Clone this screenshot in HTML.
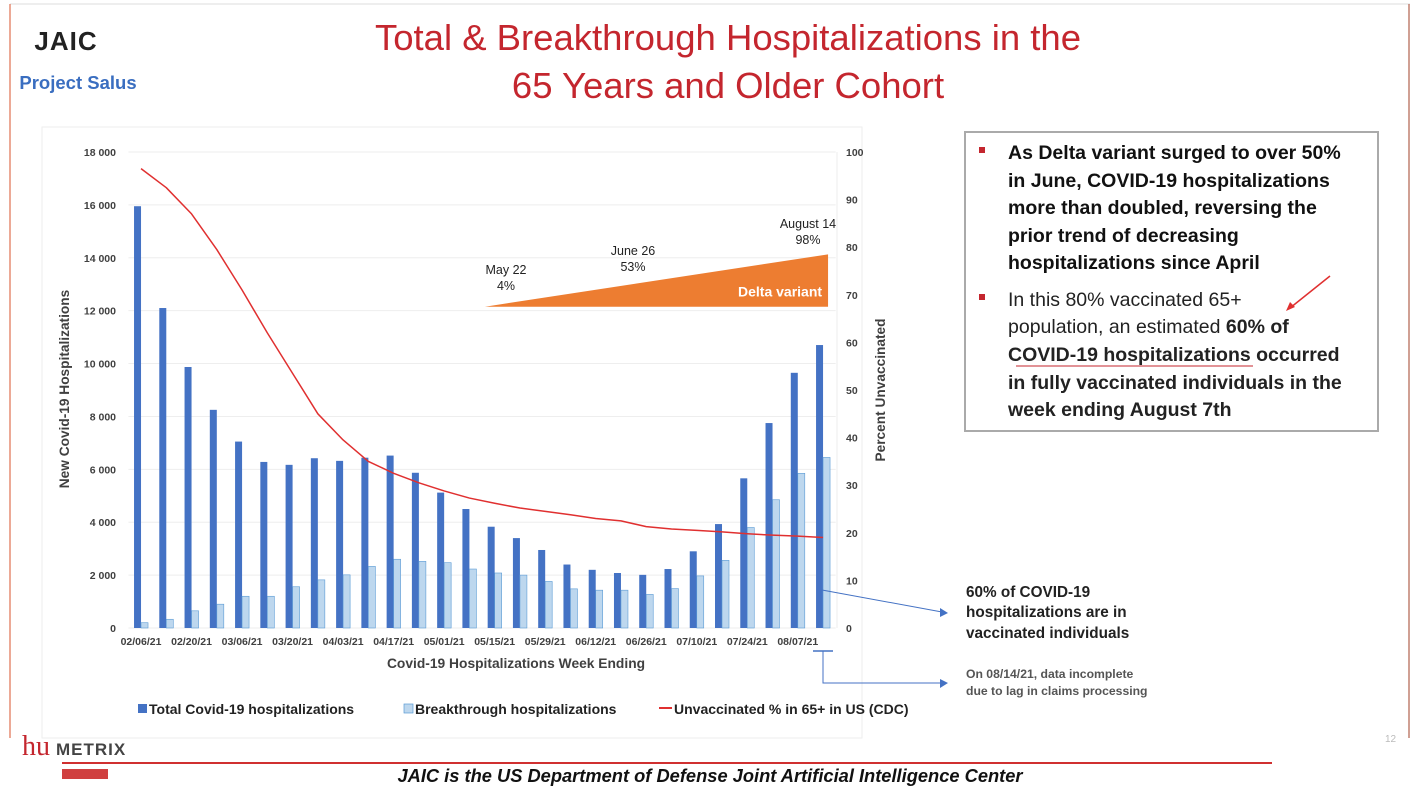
<!DOCTYPE html>
<html><head><meta charset="utf-8"><style>
body{margin:0;width:1420px;height:786px;background:#fff;overflow:hidden;font-family:"Liberation Sans",sans-serif}
svg{position:absolute;left:0;top:0}
</style></head><body>
<svg width="1420" height="786" viewBox="0 0 1420 786" xmlns="http://www.w3.org/2000/svg" id="s" font-family="Liberation Sans, sans-serif">
 <g>
  <line x1="10" y1="4" x2="1410" y2="4" stroke="#ddd" stroke-width="1"/>
  <line x1="10" y1="4" x2="10" y2="738" stroke="#e07050" stroke-width="1.2"/>
  <line x1="1409" y1="4" x2="1409" y2="738" stroke="#c08070" stroke-width="1.5"/>
 </g>
 <g>
  <text x="66" y="50" text-anchor="middle" font-size="26" font-weight="bold" fill="#222" letter-spacing="1">JAIC</text>
  <text x="78" y="89" text-anchor="middle" font-size="18.5" font-weight="bold" fill="#3a6ec0">Project Salus</text>
 </g>
 <g fill="#c4262e" font-size="36.5" text-anchor="middle">
  <text x="728" y="50">Total &amp; Breakthrough Hospitalizations in the</text>
  <text x="728" y="98">65 Years and Older Cohort</text>
 </g>
 <rect x="42" y="127" width="820" height="611" fill="#fff" stroke="#eee"/>
 <g id="grid"></g>
 <g id="delta"></g>
 <g id="bars"></g>
 <g id="line"></g>
 <g id="axes" font-size="10.5" font-weight="bold" fill="#404040"></g>
 <text transform="translate(69,389) rotate(-90)" text-anchor="middle" font-size="13.7" font-weight="bold" fill="#404040">New Covid-19 Hospitalizations</text>
 <text transform="translate(885,390) rotate(-90)" text-anchor="middle" font-size="13.7" font-weight="bold" fill="#404040">Percent Unvaccinated</text>
 <text x="516" y="668" text-anchor="middle" font-size="13.8" font-weight="bold" fill="#404040">Covid-19 Hospitalizations Week Ending</text>
 <g font-size="14" font-weight="bold" fill="#222">
  <g><rect x="138" y="704" width="9" height="9" fill="#4472c4"/><text x="149" y="714">Total Covid-19 hospitalizations</text></g>
  <g><rect x="404" y="704" width="9" height="9" fill="#bdd7ee" stroke="#5b9bd5" stroke-width="0.7"/><text x="415" y="714">Breakthrough hospitalizations</text></g>
  <g><line x1="659" y1="708" x2="672" y2="708" stroke="#e03030" stroke-width="2"/><text x="674" y="714">Unvaccinated % in 65+ in US (CDC)</text></g>
 </g>
 <g fill="#222">
  <line x1="822" y1="590" x2="942" y2="612" stroke="#4472c4" stroke-width="1"/>
  <polygon points="948,613 940,608 940,617" fill="#4472c4"/>
  <text font-size="15.3" font-weight="bold"><tspan x="966" y="597">60% of COVID-19</tspan><tspan x="966" y="617">hospitalizations are in</tspan><tspan x="966" y="638">vaccinated individuals</tspan></text>
  <line x1="813" y1="651" x2="833" y2="651" stroke="#4472c4" stroke-width="1.5"/>
  <polyline points="823,651 823,683 942,683" fill="none" stroke="#4472c4" stroke-width="1"/>
  <polygon points="948,683 940,679 940,688" fill="#4472c4"/>
  <text font-size="12.2" font-weight="bold" fill="#555"><tspan x="966" y="678">On 08/14/21, data incomplete</tspan><tspan x="966" y="695">due to lag in claims processing</tspan></text>
 </g>
 <g>
  <rect x="965" y="132" width="413" height="299" fill="#fff" stroke="#aaa" stroke-width="2"/>
  <rect x="979" y="147" width="6" height="6" fill="#c4262e"/>
  <rect x="979" y="294" width="6" height="6" fill="#c4262e"/>
  <text font-size="19.5" font-weight="bold" fill="#111">
   <tspan x="1008" y="159">As Delta variant surged to over 50%</tspan>
   <tspan x="1008" y="187">in June, COVID-19 hospitalizations</tspan>
   <tspan x="1008" y="214">more than doubled, reversing the</tspan>
   <tspan x="1008" y="242">prior trend of decreasing</tspan>
   <tspan x="1008" y="269">hospitalizations since April</tspan>
  </text>
  <text font-size="19.5" fill="#222">
   <tspan x="1008" y="306">In this 80% vaccinated 65+</tspan>
   <tspan x="1008" y="333">population, an estimated <tspan font-weight="bold">60% of</tspan></tspan>
   <tspan x="1008" y="361" font-weight="bold">COVID-19 hospitalizations occurred</tspan>
   <tspan x="1008" y="389" font-weight="bold">in fully vaccinated individuals in the</tspan>
   <tspan x="1008" y="416" font-weight="bold">week ending August 7th</tspan>
  </text>
  <line x1="1016" y1="366" x2="1253" y2="366" stroke="#c4262e" stroke-width="1"/>
  <line x1="1330" y1="276" x2="1290" y2="308" stroke="#e03030" stroke-width="1.5"/>
  <polygon points="1286,311 1290,302 1295,307" fill="#e03030"/>
 </g>
 <g>
  <text x="22" y="755" font-size="28" font-family="Liberation Serif, serif" fill="#c4262e">hu</text>
  <text x="56" y="755" font-size="17" font-weight="bold" fill="#444" letter-spacing="1">METRIX</text>
  <rect x="62" y="769" width="46" height="10" fill="#d04040"/>
  <line x1="62" y1="763" x2="1272" y2="763" stroke="#d03030" stroke-width="2"/>
  <text x="710" y="782" text-anchor="middle" font-size="18.3" font-style="italic" font-weight="bold" fill="#111">JAIC is the US Department of Defense Joint Artificial Intelligence Center</text>
  <text x="1385" y="742" font-size="10" fill="#bbb">12</text>
 </g>
</svg>
<script>
const categories=["02/06/21","02/13/21","02/20/21","02/27/21","03/06/21","03/13/21","03/20/21","03/27/21","04/03/21","04/10/21","04/17/21","04/24/21","05/01/21","05/08/21","05/15/21","05/22/21","05/29/21","06/05/21","06/12/21","06/19/21","06/26/21","07/03/21","07/10/21","07/17/21","07/24/21","07/31/21","08/07/21","08/14/21"];
const totalHosp=[15950,12100,9870,8250,7050,6280,6170,6420,6320,6440,6520,5870,5120,4500,3830,3400,2950,2400,2200,2080,2010,2230,2900,3930,5660,7750,9650,10700];
const breakthroughHosp=[200,330,650,900,1200,1200,1560,1820,2010,2330,2600,2520,2470,2230,2080,2000,1760,1480,1430,1430,1270,1490,1970,2560,3800,4850,5850,6450];
const unvaccPct=[96.5,92.5,87,79.5,71,62,53.5,45,39.5,35,32.5,30.5,28.8,27.3,26.2,25.2,24.5,23.8,23,22.5,21.3,20.8,20.5,20.2,19.8,19.5,19.3,19];
const leftTicks=[0,2000,4000,6000,8000,10000,12000,14000,16000,18000];
const leftTickLabels=["0","2 000","4 000","6 000","8 000","10 000","12 000","14 000","16 000","18 000"];
const rightTicks=[0,10,20,30,40,50,60,70,80,90,100];
const deltaLabels=[["May 22","4%"],["June 26","53%"],["August 14","98%"]];

const NS="http://www.w3.org/2000/svg";
const X0=128.4,BW=25.26,Y0=628,Y1=152;
const yL=v=>Y0-(v/18000)*(Y0-Y1);
const yR=v=>Y0-(v/100)*(Y0-Y1);
const xC=i=>X0+BW*(i+0.5);
function mk(tag,attrs,parent){const e=document.createElementNS(NS,tag);for(const k in attrs)e.setAttribute(k,attrs[k]);parent.appendChild(e);return e;}
const grid=document.getElementById('grid'),axes=document.getElementById('axes'),bars=document.getElementById('bars'),line=document.getElementById('line'),delta=document.getElementById('delta');
leftTicks.forEach((t,i)=>{
 const g=mk('line',{x1:X0,x2:X0+BW*28,y1:yL(t),y2:yL(t),stroke:'#eeeeee','stroke-width':1},grid);
 
 
 const l=mk('text',{x:116,y:yL(t)+4,'text-anchor':'end'},axes);l.textContent=leftTickLabels[i];
 
 
});
rightTicks.forEach(t=>{
 const l=mk('text',{x:846,y:yR(t)+4},axes);l.textContent=String(t);
 
 
});
mk('line',{x1:837,x2:837,y1:Y1,y2:Y0,stroke:'#eee'},grid);
categories.forEach((c,i)=>{
 if(i%2===0){const l=mk('text',{x:xC(i),y:645,'text-anchor':'middle','font-size':10.5},axes);l.textContent=c;
 
 }
 const b=mk('rect',{x:xC(i)-7,y:yL(totalHosp[i]),width:7,height:Y0-yL(totalHosp[i]),fill:'#4472c4'},bars);
 
 
 const b2=mk('rect',{x:xC(i),y:yL(breakthroughHosp[i]),width:7,height:Y0-yL(breakthroughHosp[i]),fill:'#bdd7ee',stroke:'#5b9bd5','stroke-width':0.6},bars);
 
 
});
const pts=unvaccPct.map((v,i)=>xC(i)+','+yR(v)).join(' ');
const pl=mk('polyline',{points:pts,fill:'none',stroke:'#e03030','stroke-width':1.5,'stroke-linejoin':'round'},line);


const dx0=xC(15)-35,dx1=xC(27)+5,dyb=yR(67.5),dyt=yR(78.5);
const w=mk('polygon',{points:`${dx0},${dyb} ${dx1},${dyt} ${dx1},${dyb}`,fill:'#ed7d31'},delta);


const dt=mk('text',{x:dx1-6,y:dyb-10,'text-anchor':'end','font-size':14,'font-weight':'bold',fill:'#fff'},delta);dt.textContent='Delta variant';


[[506,274],[633,255],[808,228]].forEach((p,i)=>{
 const t=mk('text',{x:p[0],y:p[1],'text-anchor':'middle','font-size':12.5,fill:'#222'},delta);
 
 
 const a=mk('tspan',{x:p[0],dy:0},t);a.textContent=deltaLabels[i][0];
 const b=mk('tspan',{x:p[0],dy:16},t);b.textContent=deltaLabels[i][1];
});
</script>
</body></html>
